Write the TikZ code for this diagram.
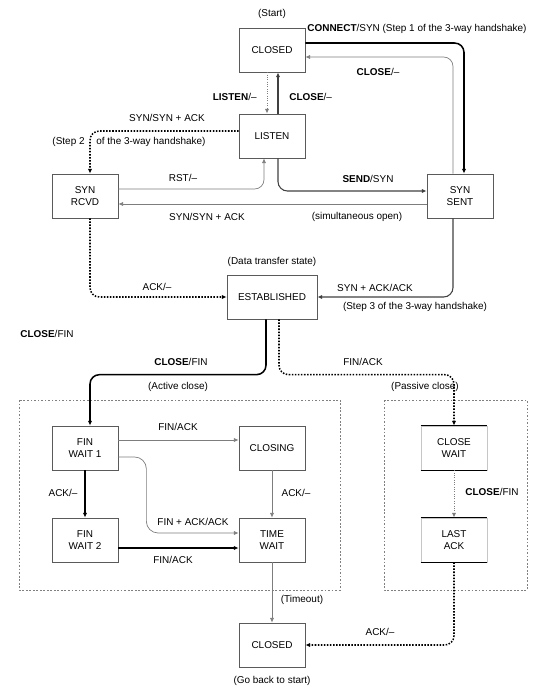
\documentclass[tikz,border=0pt]{standalone}
\usepackage{fontspec}
\setmainfont{Liberation Sans}
\usetikzlibrary{arrows.meta}
\definecolor{linegray}{RGB}{125,125,125}
\definecolor{boxgray}{RGB}{90,90,90}

\begin{document}
\begin{tikzpicture}[x=0.03cm, y=-0.03cm,
    every node/.style={font=\fontsize{8.5}{10}\selectfont},
    state/.style={draw=boxgray, line width=0.6pt, fill=white, minimum width=1.98cm,
      minimum height=1.32cm, align=center, inner sep=1pt},
    lbl/.style={inner sep=1pt, align=center},
    tip/.style={-{Latex[length=4pt,width=3.5pt]}},
    thickline/.style={tip, line width=1.3pt, rounded corners=8pt},
    medline/.style={tip, draw=black!75, line width=0.9pt, rounded corners=8pt},
    thinline/.style={tip, draw=linegray, line width=0.6pt, rounded corners=8pt},
    dotline/.style={tip, line width=1.3pt, dash pattern=on 1.3pt off 1.3pt, rounded corners=8pt},
    faintdot/.style={tip, draw=linegray, line width=0.8pt, dash pattern=on 0.8pt off 1.2pt},
    frame/.style={draw=gray, line width=0.5pt, dash pattern=on 1.5pt off 1.5pt}]
                \useasboundingbox (0,0) rectangle (547,688);

                % Frames
                \draw[frame] (19,400) rectangle (340,590);
                \draw[frame] (384,400) rectangle (527,590);
                \node[lbl] (activelbl) at (178,387) {(Active close)};
                \node[lbl] (passivelbl) at (425,387) {(Passive close)};

                % States
                \node[state] (closed) at (272,50) {CLOSED};
                \node[state] (listen) at (272,136) {LISTEN};
                \node[state] (synrcvd) at (85,196) {SYN\\RCVD};
                \node[state] (synsent) at (460,196) {SYN\\SENT};
                \node[state, minimum width=2.7cm] (estab) at (272,297) {ESTABLISHED};
                \node[state] (finwaita) at (85,448) {FIN\\WAIT 1};
                \node[state] (closing) at (272,448) {CLOSING};
                \node[state] (finwaitb) at (85,540) {FIN\\WAIT 2};
                \node[state] (timewait) at (272,540) {TIME\\WAIT};
                \node[state, draw=gray!45] (closewait) at (454,448) {CLOSE\\WAIT};
                \node[state, draw=gray!45] (lastack) at (454,540) {LAST\\ACK};
                \node[state] (closedend) at (272,645) {CLOSED};
                \draw[line width=0.9pt] (closewait.north west) -- (closewait.north east)
                    (closewait.south west) -- (closewait.south east);
                \draw[line width=0.9pt] (lastack.north west) -- (lastack.north east)
                    (lastack.south west) -- (lastack.south east);

                % Opening
                \node[lbl] (startlbl) at (272,14) {(Start)};
                \draw[thickline] ([yshift=0.21cm]closed.east) -| ([xshift=0.12cm]synsent.north);
                \node[lbl, anchor=west] (connectlbl) at (306,29) {\textbf{CONNECT}/SYN (Step 1 of the 3-way handshake)};
                \draw[thinline] ([xshift=-0.21cm]synsent.north) |- ([yshift=-0.21cm]closed.east);
                \node[lbl] (closelbla) at (378,72) {\textbf{CLOSE}/–};
                \draw[faintdot] ([xshift=-0.15cm]closed.south) -- ([xshift=-0.15cm]listen.north);
                \draw[medline] ([xshift=0.18cm]listen.north) -- ([xshift=0.18cm]closed.south);
                \node[lbl, anchor=east] (listenlbl) at (258,97) {\textbf{LISTEN}/–};
                \node[lbl, anchor=west] (closelblb) at (288,97) {\textbf{CLOSE}/–};
                \draw[dotline] ([yshift=0.15cm]listen.west) -| ([xshift=0.15cm]synrcvd.north);
                \node[lbl] (synlbla) at (167,118) {SYN/SYN + ACK};
                \node[lbl, anchor=east] (steplbla) at (86,142) {(Step 2};
                \node[lbl, anchor=west] (steplblb) at (95,142) {of the 3-way handshake)};
                \draw[thinline] ([yshift=0.21cm]synrcvd.east) -| ([xshift=-0.24cm]listen.south);
                \node[lbl] (rstlbl) at (183,178) {RST/–};
                \draw[medline] ([xshift=0.18cm]listen.south) |- ([yshift=0.15cm]synsent.west);
                \node[lbl] (sendlbl) at (368,179) {\textbf{SEND}/SYN};
                \draw[thinline] ([yshift=-0.24cm]synsent.west) -- ([yshift=-0.24cm]synrcvd.east);
                \node[lbl] (synlblb) at (207,217) {SYN/SYN + ACK};
                \node[lbl] (simlbl) at (357,217) {(simultaneous open)};

                % Established
                \node[lbl] (datalbl) at (272,262) {(Data transfer state)};
                \draw[dotline] ([xshift=0.15cm]synrcvd.south) |- (estab.west);
                \node[lbl] (acklbla) at (157,287) {ACK/–};
                \draw[medline] ([xshift=-0.21cm]synsent.south) |- (estab.east);
                \node[lbl] (synacklbl) at (375,288) {SYN + ACK/ACK};
                \node[lbl] (steplblc) at (415,307) {(Step 3 of the 3-way handshake)};
                \node[lbl] (closelblc) at (47,334) {\textbf{CLOSE}/FIN};

                % Closing
                \draw[thickline] ([xshift=-0.18cm]estab.south) |- ([xshift=0.15cm,yshift=1.53cm]finwaita.north) -- ([xshift=0.15cm]finwaita.north);
                \node[lbl] (closelbld) at (181,362) {\textbf{CLOSE}/FIN};
                \draw[dotline] ([xshift=0.21cm]estab.south) |- ([yshift=1.53cm]closewait.north) -- (closewait.north);
                \node[lbl] (finlbla) at (363,362) {FIN/ACK};
                \draw[thinline] ([yshift=0.24cm]finwaita.east) -- ([yshift=0.24cm]closing.west);
                \node[lbl] (finlblb) at (178,427) {FIN/ACK};
                \draw[thinline, rounded corners=10pt] ([yshift=-0.27cm]finwaita.east) -- ++(28,0) |- ([yshift=0.21cm]timewait.west);
                \node[lbl] (finacklbl) at (193,522) {FIN + ACK/ACK};
                \draw[thickline] (finwaita) -- (finwaitb);
                \node[lbl] (acklblb) at (63,493) {ACK/–};
                \draw[thinline] (closing) -- (timewait);
                \node[lbl] (acklblc) at (296,493) {ACK/–};
                \draw[thickline] ([yshift=-0.24cm]finwaitb.east) -- ([yshift=-0.24cm]timewait.west);
                \node[lbl] (finlblc) at (173,560) {FIN/ACK};
                \draw[faintdot] (closewait) -- (lastack);
                \node[lbl] (closelble) at (492,492) {\textbf{CLOSE}/FIN};

                % Back to start
                \draw[thinline] (timewait) -- (closedend);
                \node[lbl] (timeoutlbl) at (302,600) {(Timeout)};
                \draw[dotline] (lastack.south) |- (closedend.east);
                \node[lbl] (acklbld) at (380,632) {ACK/–};
                \node[lbl] (backlbl) at (272,681) {(Go back to start)};
            \end{tikzpicture}
\end{document}
